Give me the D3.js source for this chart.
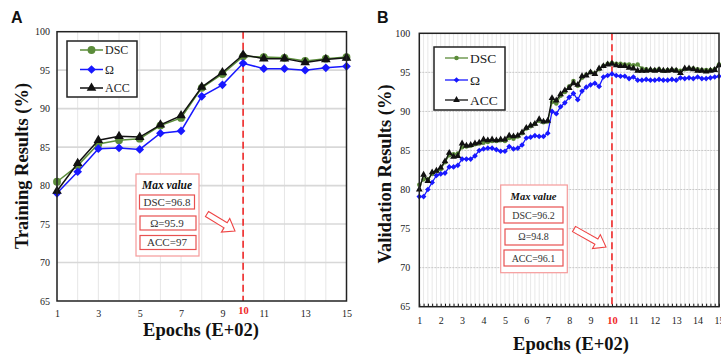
<!DOCTYPE html>
<html>
<head>
<meta charset="utf-8">
<script src="https://cdn.jsdelivr.net/npm/d3@7"></script>
<style>
  body { margin: 0; background: #fff; }
  svg { display: block; }
</style>
</head>
<body>
<svg id="chart" width="721" height="354"></svg>
<script>
// ---- data ----
const yTicks = [65, 70, 75, 80, 85, 90, 95, 100];

// panel A: training, one point per epoch (E+02)
const epochsA = [1, 2, 3, 4, 5, 6, 7, 8, 9, 10, 11, 12, 13, 14, 15];
const xLabelsA = [1, 3, 5, 7, 9, 10, 11, 13, 15];
const dscA = [80.5, 82.6, 85.4, 85.9, 86.1, 87.8, 88.8, 92.7, 94.5, 96.8, 96.7, 96.6, 96.2, 96.5, 96.7];
const omegaA = [79.0, 81.8, 84.8, 84.9, 84.7, 86.8, 87.1, 91.6, 93.1, 95.9, 95.2, 95.2, 95.0, 95.3, 95.5];
const accA = [79.3, 82.9, 85.9, 86.4, 86.3, 87.9, 89.1, 92.8, 94.7, 97.0, 96.5, 96.5, 96.0, 96.4, 96.6];

// panel B: validation, sampled every 0.2 (E+02)
const epochsB = d3.range(71).map(i => +(1 + i * 0.2).toFixed(1));
const xLabelsB = [1, 2, 3, 4, 5, 6, 7, 8, 9, 10, 11, 12, 13, 14, 15];
const dscB = [
  80.6, 81.3, 81.3, 82.0, 82.3, 82.6, 83.5, 84.4, 84.5, 84.6,
  85.4, 85.5, 85.6, 85.8, 85.9, 86.0, 86.1, 86.2, 86.2, 86.3,
  86.2, 86.6, 86.5, 86.8, 87.2, 87.8, 88.1, 88.4, 88.8, 88.6,
  88.7, 91.2, 91.0, 92.0, 92.5, 93.2, 93.9, 93.3, 94.3, 94.7,
  95.0, 94.9, 95.4, 95.8, 96.1, 96.2, 96.1, 96.1, 96.0, 96.0,
  95.9, 96.0, 95.5, 95.4, 95.3, 95.3, 95.4, 95.2, 95.3, 95.3,
  95.3, 95.2, 95.4, 95.5, 95.5, 95.4, 95.3, 95.3, 95.3, 95.4, 96.0
];
const omegaB = [
  79.1, 79.1, 80.0, 80.9, 81.8, 82.0, 82.1, 82.9, 82.9, 83.1,
  83.9, 83.9, 83.9, 84.3, 85.0, 85.2, 85.3, 85.3, 85.1, 84.9,
  84.9, 85.5, 85.2, 85.3, 85.7, 86.6, 86.7, 86.9, 86.8, 86.8,
  87.2, 90.0, 89.7, 90.6, 91.1, 91.8, 92.3, 91.5, 92.6, 93.1,
  93.4, 93.6, 93.2, 94.4, 94.6, 94.8, 94.6, 94.5, 94.5, 94.2,
  94.4, 94.0, 94.0, 94.1, 94.0, 94.0, 94.1, 94.0, 94.0, 94.1,
  94.0, 94.3, 94.2, 94.3, 94.2, 94.4, 94.2, 94.2, 94.3, 94.4, 94.5
];
const accB = [
  80.0, 81.9, 81.1, 82.2, 82.4, 82.8, 83.6, 84.7, 84.2, 84.3,
  85.9, 85.6, 85.7, 85.9, 86.0, 86.4, 86.3, 86.4, 86.3, 86.4,
  86.4, 86.9, 86.8, 86.9, 87.3, 87.9, 88.2, 88.4, 89.0, 88.7,
  88.8, 91.7, 91.4, 92.2, 92.7, 93.0, 93.6, 93.4, 94.5, 94.6,
  95.0, 94.8, 95.5, 95.8, 96.0, 96.1, 95.9, 95.8, 95.8, 95.6,
  95.5, 95.2, 95.2, 95.2, 95.3, 95.2, 95.3, 95.2, 95.2, 95.3,
  95.2, 94.9, 95.5, 95.5, 95.4, 95.2, 95.2, 95.1, 95.2, 95.3, 95.9
];

// ---- style ----
const serif = '"Times New Roman", "Liberation Serif", serif';
const sans = 'Arial, "Liberation Sans", sans-serif';
const green = '#5b8c3a';
const blue = '#1818ff';
const black = '#111';
const red = '#f02828';

const svg = d3.select('#chart');

function marker(kind, area) {
  if (kind === 'circle') return d3.symbol(d3.symbolCircle, area)();
  if (kind === 'triangle') return d3.symbol(d3.symbolTriangle, area)();
  return d3.symbol(d3.symbolSquare, area)();
}

function drawPanel(cfg) {
  const g = svg.append('g').attr('transform', `translate(${cfg.left},${cfg.top})`);
  const x = d3.scaleLinear().domain([1, 15]).range([0, cfg.width]);
  const y = d3.scaleLinear().domain([65, 100]).range([cfg.height, 0]);

  // vertical grid
  g.append('g').selectAll('line').data(cfg.vgrid).join('line')
    .attr('x1', d => x(d)).attr('x2', d => x(d))
    .attr('y1', 0).attr('y2', cfg.height)
    .attr('stroke', cfg.vgridColor).attr('stroke-width', 1);

  // horizontal grid
  g.append('g').selectAll('line').data(yTicks.slice(1, -1)).join('line')
    .attr('x1', 0).attr('x2', cfg.width)
    .attr('y1', d => y(d)).attr('y2', d => y(d))
    .attr('stroke', cfg.hgridColor).attr('stroke-width', cfg.hgridWidth)
    .attr('stroke-dasharray', cfg.hgridDash);

  // y axis labels
  const yAxis = g.append('g')
    .call(d3.axisLeft(y).tickValues(yTicks).tickSize(0).tickPadding(cfg.yPad));
  yAxis.select('.domain').remove();
  yAxis.selectAll('text').attr('font-family', serif).attr('font-size', 10).attr('fill', '#222');

  // x axis labels
  const xAxis = g.append('g').attr('transform', `translate(0,${cfg.height})`)
    .call(d3.axisBottom(x).tickValues(cfg.xLabels).tickSize(0).tickPadding(cfg.xPad));
  xAxis.select('.domain').remove();
  xAxis.selectAll('text').attr('font-family', serif).attr('font-size', 10).attr('fill', '#222');
  xAxis.selectAll('.tick').filter(d => d === 10).select('text')
    .attr('fill', red).attr('font-weight', 'bold').attr('font-size', 10.5)
    .attr('dy', cfg.redDy);

  // minor ticks on bottom (panel B)
  if (cfg.minorTicks) {
    const mt = g.append('g').attr('transform', `translate(0,${cfg.height})`)
      .call(d3.axisBottom(x).tickValues(cfg.minorTicks).tickSize(-3).tickFormat(''));
    mt.select('.domain').remove();
    mt.selectAll('line').attr('stroke', '#111').attr('stroke-width', 1);
  }

  // red dashed line at epoch 10
  g.append('line')
    .attr('x1', x(10)).attr('x2', x(10)).attr('y1', 0).attr('y2', cfg.height)
    .attr('stroke', red).attr('stroke-width', 1.6).attr('stroke-dasharray', '7,4');

  // series
  const series = [
    { name: 'DSC', values: cfg.dsc, color: green, kind: 'circle', area: cfg.circleArea },
    { name: 'Ω', values: cfg.omega, color: blue, kind: 'diamond', area: cfg.diamondArea },
    { name: 'ACC', values: cfg.acc, color: black, kind: 'triangle', area: cfg.triArea }
  ];
  const line = d3.line().x(d => x(d[0])).y(d => y(d[1]));
  series.forEach(s => {
    const pts = cfg.epochs.map((e, i) => [e, s.values[i]]);
    g.append('path').datum(pts)
      .attr('fill', 'none').attr('stroke', s.color).attr('stroke-width', cfg.lineWidth)
      .attr('d', line);
    g.append('g').selectAll('path').data(pts).join('path')
      .attr('d', marker(s.kind, s.area))
      .attr('transform', d => `translate(${x(d[0])},${y(d[1])})` + (s.kind === 'diamond' ? ' rotate(45)' : ''))
      .attr('fill', s.color);
  });

  // frame
  g.append('rect').attr('width', cfg.width).attr('height', cfg.height)
    .attr('fill', 'none').attr('stroke', '#222').attr('stroke-width', 1.5);

  // legend
  const lg = cfg.legend;
  svg.append('rect').attr('x', lg.x).attr('y', lg.y).attr('width', lg.w).attr('height', lg.h)
    .attr('fill', '#fff').attr('stroke', '#222').attr('stroke-width', 1.5);
  series.forEach((s, i) => {
    const ly = lg.rows[i];
    svg.append('line').attr('x1', lg.lx0).attr('x2', lg.lx1).attr('y1', ly).attr('y2', ly)
      .attr('stroke', s.color).attr('stroke-width', cfg.lineWidth);
    svg.append('path').attr('d', marker(s.kind, s.area))
      .attr('transform', `translate(${(lg.lx0 + lg.lx1) / 2},${ly})` + (s.kind === 'diamond' ? ' rotate(45)' : ''))
      .attr('fill', s.color);
    svg.append('text').attr('x', lg.lx1 + 2).attr('y', ly + lg.fs * 0.35)
      .attr('font-family', serif).attr('font-size', lg.fs).attr('fill', '#222')
      .text(s.name);
  });

  // axis titles
  svg.append('text').attr('x', cfg.xTitle[0]).attr('y', cfg.xTitle[1])
    .attr('text-anchor', 'middle').attr('font-family', serif).attr('font-weight', 'bold')
    .attr('font-size', 18.5).attr('fill', '#111').text('Epochs (E+02)');
  svg.append('text')
    .attr('transform', `translate(${cfg.yTitle[0]},${cfg.yTitle[1]}) rotate(-90)`)
    .attr('text-anchor', 'middle').attr('font-family', serif).attr('font-weight', 'bold')
    .attr('font-size', 18.5).attr('fill', '#111').text(cfg.yTitleText);

  // panel letter
  svg.append('text').attr('x', cfg.letter[0]).attr('y', cfg.letter[1])
    .attr('font-family', sans).attr('font-weight', 'bold').attr('font-size', 16)
    .attr('fill', '#111').text(cfg.letterText);

  // max value note
  const n = cfg.note;
  svg.append('rect').attr('x', n.box[0]).attr('y', n.box[1]).attr('width', n.box[2]).attr('height', n.box[3])
    .attr('fill', '#fff').attr('stroke', '#f59a9a').attr('stroke-width', 1.2);
  svg.append('text').attr('x', n.cx).attr('y', n.titleY)
    .attr('text-anchor', 'middle').attr('font-family', serif).attr('font-weight', 'bold')
    .attr('font-style', 'italic').attr('font-size', n.fs + 0.5).attr('fill', '#111').text('Max value');
  n.items.forEach(it => {
    svg.append('rect').attr('x', it.box[0]).attr('y', it.box[1]).attr('width', it.box[2]).attr('height', it.box[3])
      .attr('fill', 'none').attr('stroke', '#e85050').attr('stroke-width', 1.2);
    svg.append('text').attr('x', n.cx).attr('y', it.y)
      .attr('text-anchor', 'middle').attr('font-family', serif).attr('font-size', n.fs)
      .attr('fill', '#333').text(it.text);
  });

  // hollow arrow
  const a = n.arrow;
  const len = Math.hypot(a.tip[0] - a.tail[0], a.tip[1] - a.tail[1]);
  const ang = Math.atan2(a.tip[1] - a.tail[1], a.tip[0] - a.tail[0]) * 180 / Math.PI;
  const hb = len - 11;
  const arrowPath = `M0,-3 L${hb},-3 L${hb},-8 L${len},0 L${hb},8 L${hb},3 L0,3 Z`;
  svg.append('path').attr('d', arrowPath)
    .attr('transform', `translate(${a.tail[0]},${a.tail[1]}) rotate(${ang})`)
    .attr('fill', '#fff').attr('stroke', '#ee4444').attr('stroke-width', 1.1);
}

drawPanel({
  left: 57, top: 31.7, width: 289.5, height: 269.3,
  epochs: epochsA, dsc: dscA, omega: omegaA, acc: accA,
  xLabels: xLabelsA, vgrid: epochsA, vgridColor: '#e6e6e6',
  hgridColor: '#d8d8d8', hgridWidth: 1.6, hgridDash: null,
  yPad: 7, xPad: 8.5, redDy: '0.43em',
  lineWidth: 1.5, circleArea: 48, diamondArea: 38, triArea: 40,
  legend: { x: 67, y: 41, w: 70, h: 56, rows: [50, 69.5, 88], lx0: 80, lx1: 103, fs: 12 },
  xTitle: [201, 336], yTitle: [28, 166], yTitleText: 'Training Results (%)',
  letter: [11, 23], letterText: 'A',
  note: {
    box: [136, 174, 63, 82], cx: 167, titleY: 189, fs: 11,
    items: [
      { box: [139.5, 195, 55, 14], y: 206, text: 'DSC=96.8' },
      { box: [140, 216, 56, 14], y: 226.5, text: 'Ω=95.9' },
      { box: [140, 235.5, 56, 14], y: 246, text: 'ACC=97' }
    ],
    arrow: { tail: [207, 214], tip: [235, 231] }
  }
});

drawPanel({
  left: 419.3, top: 33.3, width: 299.7, height: 273.4,
  epochs: epochsB, dsc: dscB, omega: omegaB, acc: accB,
  xLabels: xLabelsB, vgrid: epochsB, vgridColor: '#e8e8e8',
  hgridColor: '#c8c8c8', hgridWidth: 1, hgridDash: '2,1',
  yPad: 9, xPad: 10, redDy: '0.71em', minorTicks: epochsB,
  lineWidth: 1.3, circleArea: 16, diamondArea: 16, triArea: 20,
  legend: { x: 434, y: 47, w: 71, h: 63, rows: [58, 80, 100], lx0: 445, lx1: 468, fs: 13.5 },
  xTitle: [571, 350], yTitle: [391, 174], yTitleText: 'Validation Results (%)',
  letter: [377, 23], letterText: 'B',
  note: {
    box: [500.7, 185, 66.6, 87.7], cx: 533.5, titleY: 200, fs: 10,
    items: [
      { box: [504, 207, 59, 16], y: 218.5, text: 'DSC=96.2' },
      { box: [505, 229, 58, 16], y: 240, text: 'Ω=94.8' },
      { box: [504, 250, 59, 16], y: 261.5, text: 'ACC=96.1' }
    ],
    arrow: { tail: [574, 229], tip: [606, 247] }
  }
});
</script>
</body>
</html>
